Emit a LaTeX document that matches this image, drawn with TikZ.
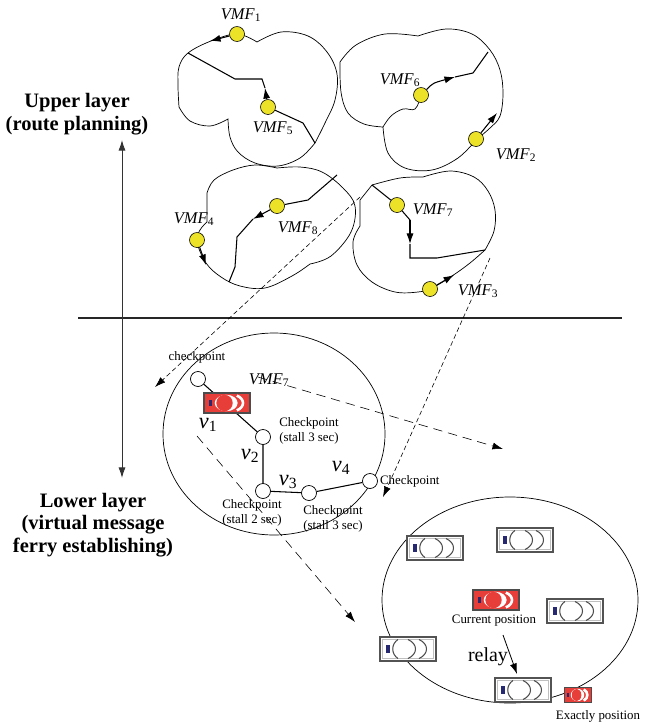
\documentclass[tikz,border=0pt]{standalone}
\usepackage{fontspec}
\setmainfont{Liberation Serif}
\usetikzlibrary{arrows.meta}

\definecolor{dotyellow}{RGB}{236,226,40}
\definecolor{carred}{RGB}{232,62,58}
\definecolor{carblue}{RGB}{38,40,112}

\newcommand{\vmf}[1]{\textit{VMF}\textsubscript{#1}}
\newcommand{\vsub}[1]{\textit{v}\textsubscript{#1}}

% top view of a car, white body
\tikzset{
  pics/whitecar/.style={code={
    \draw[gray!65!black,line width=1.3pt,fill=white] (-28,-12) rectangle (28,12);
    \draw[gray!50,line width=0.5pt] (-25.5,-9.5) rectangle (25.5,9.5);
    \fill[carblue] (-22,-4) rectangle (-18,4);
    \draw[gray!60!black,line width=0.9pt] (-10,-9.5) .. controls (-17,-5) and (-17,5) .. (-10,9.5);
    \draw[gray!60!black,line width=0.9pt] (0,-9.5) .. controls (10,-5) and (10,5) .. (0,9.5);
    \draw[gray!60!black,line width=0.9pt] (11,-9.5) .. controls (21,-5) and (21,5) .. (11,9.5);
  }},
  % same car, red body
  pics/redcar/.style={code={
    \draw[gray!60!black,line width=1.2pt,fill=carred] (-28,-12) rectangle (28,12);
    \fill[carblue] (-22,-4) rectangle (-18,4);
    \fill[white] (-1,0) ellipse [x radius=14, y radius=10];
    \fill[carred] (-3,0) ellipse [x radius=10, y radius=10];
    \draw[white,line width=2.2pt] (12,-9) .. controls (22,-5) and (22,5) .. (12,9);
  }}
}

\begin{document}
\begin{tikzpicture}[x=0.03cm,y=-0.03cm,>={Latex[length=9pt,width=6pt]},
  region/.style={line width=0.6pt},
  route/.style={line width=0.9pt},
  vmf/.style={circle,draw,fill=dotyellow,inner sep=0pt,minimum size=0.45cm,line width=0.5pt},
  cpoint/.style={circle,draw,fill=white,inner sep=0pt,minimum size=0.45cm,line width=0.6pt},
  vmftext/.style={font=\fontsize{14}{14}\selectfont},
  note/.style={font=\fontsize{11}{12.5}\selectfont,align=center},
  vtext/.style={font=\fontsize{19}{19}\selectfont},
  layer/.style={font=\bfseries\fontsize{17.5}{19.5}\selectfont,align=center},
  longdash/.style={dash pattern=on 8pt off 5pt,line width=0.5pt},
  shortdash/.style={dash pattern=on 4pt off 2.5pt,line width=0.5pt},
]
\useasboundingbox (0,0) rectangle (648,726);

% upper layer: four areas
\draw[region] plot[smooth,tension=0.6] coordinates {(257,42) (281,32) (308,36) (327,52) (337,74) (335,100) (325,123) (315,143)}
  -- plot[smooth,tension=0.6] coordinates {(315,143) (300,158) (278,166) (255,163) (238,152) (230,137) (228,119)}
  -- plot[smooth,tension=0.6] coordinates {(228,119) (210,126) (190,121) (179,107)}
  -- plot[smooth,tension=0.6] coordinates {(179,107) (178,86) (179,67) (188,53) (211,41) (237,34) (257,42)} -- cycle;
\draw[region] plot[smooth,tension=0.6] coordinates {(418,36) (446,29) (472,34) (490,50) (500,70) (503,93) (500,116) (490,128) (477,139)}
  -- plot[smooth,tension=0.6] coordinates {(477,139) (458,158) (432,170) (405,168) (388,153) (383,127)}
  -- plot[smooth,tension=0.6] coordinates {(383,127) (364,124) (348,113) (341,92) (340,62)}
  -- plot[smooth,tension=0.6] coordinates {(340,62) (356,45) (385,34) (418,36)} -- cycle;
\draw[region] plot[smooth,tension=0.6] coordinates {(383,127) (391,116) (403,109) (415,109) (421,96)};
\draw[region] plot[smooth,tension=0.6] coordinates {(277,168) (300,167) (322,172) (343,188) (355,206) (351,232) (331,256) (310,264)}
  -- plot[smooth,tension=0.6] coordinates {(310,264) (292,276) (265,288) (240,286) (221,277) (206,263) (197,242) (200,230) (207,222)}
  -- (207,193)
  -- plot[smooth,tension=0.6] coordinates {(207,193) (214,180) (233,170) (255,165) (277,168)} -- cycle;
\draw[region] (372,185) -- (360,200) -- (360,226)
  -- plot[smooth,tension=0.6] coordinates {(360,226) (353,242) (357,265) (372,282) (395,292) (418,292) (432,288) (452,276) (470,263) (485,250)}
  -- plot[smooth,tension=0.6] coordinates {(485,250) (494,231) (495,210) (488,191) (474,177) (450,171) (423,177)}
  -- plot[smooth,tension=0.6] coordinates {(423,177) (400,178) (372,185)} -- cycle;

% message ferries
\node[vmf] (vmf1) at (237,34) {};
\node[vmf] (vmf5) at (268,107) {};
\node[vmf] (vmf6) at (421,95) {};
\node[vmf] (vmf2) at (476,139) {};
\node[vmf] (vmf4) at (197,240) {};
\node[vmf] (vmf8) at (277,206) {};
\node[vmf] (vmf7) at (397,205) {};
\node[vmf] (vmf3) at (430,289) {};

\node[vmftext] (t1) at (241,15) {\vmf{1}};
\node[vmftext] (t5) at (273,128) {\vmf{5}};
\node[vmftext] (t6) at (400,80) {\vmf{6}};
\node[vmftext] (t2) at (516,155) {\vmf{2}};
\node[vmftext] (t4) at (194,219) {\vmf{4}};
\node[vmftext] (t8) at (298,228) {\vmf{8}};
\node[vmftext] (t7) at (433,210) {\vmf{7}};
\node[vmftext] (t3) at (478,291) {\vmf{3}};

% routes
\coordinate (r1a) at (188,53);
\coordinate (r1b) at (235,79);
\coordinate (r1c) at (262,79);
\coordinate (r1t) at (265,88);
\coordinate (r1d) at (303,123);
\coordinate (r1e) at (315,143);
\coordinate (r1s) at (210,41);
\draw[route] (r1a) -- (r1b) -- (r1c) -- (r1t);
\draw[route,->] (vmf5) -- (r1t);
\draw[route] (vmf5) -- (r1d) -- (r1e);
\draw[route,->] (vmf1) -- (r1s);

\coordinate (r2a) at (455,77);
\coordinate (r2b) at (473,73);
\coordinate (r2c) at (488,52);
\coordinate (r2t) at (497,113);
\draw[route,->] (vmf6) .. controls (433,83) .. (r2a);
\draw[route] (r2a) -- (r2b) -- (r2c);
\draw[route,->] (vmf2) -- (r2t);

\coordinate (r3a) at (337,175);
\coordinate (r3b) at (308,200);
\coordinate (r3t) at (253,219);
\coordinate (r3c) at (237,237);
\coordinate (r3d) at (235,267);
\coordinate (r3e) at (229,282);
\coordinate (r4t) at (206,265);
\draw[route] (r3a) -- (r3b) -- (vmf8);
\draw[route,->] (vmf8) -- (r3t);
\draw[route] (r3t) -- (r3c) -- (r3d) -- (r3e);
\draw[route,->] (vmf4) -- (r4t);

\coordinate (r5a) at (372,185);
\coordinate (r5b) at (410,220);
\coordinate (r5t) at (410,244);
\coordinate (r5c) at (410,258);
\coordinate (r5d) at (437,258);
\coordinate (r5e) at (485,250);
\coordinate (r6t) at (454,275);
\draw[route] (r5a) -- (vmf7) -- (r5b);
\draw[route,->] (r5b) -- (r5t);
\draw[route] (r5t) -- (r5c) -- (r5d) -- (r5e);
\draw[route,->] (vmf3) -- (r6t);

% layers
\coordinate (divl) at (78,318);
\coordinate (divr) at (622,318);
\draw[line width=1.6pt,black!85] (divl) -- (divr);
\coordinate (axt) at (122,140);
\coordinate (axb) at (122,478);
\draw[<->,line width=0.8pt,black!80] (axt) -- (axb);
\node[layer] (upper) at (77,114) {Upper layer\\(route planning)};
\node[layer] (lower) at (93,525) {Lower layer\\(virtual message\\ferry establishing)};

% lower layer: checkpoints of VMF7
\coordinate (zone1) at (274,434);
\draw[region] (zone1) ellipse [x radius=111, y radius=101];
\node[cpoint] (cp0) at (198,379) {};
\node[cpoint] (cp1) at (263,437) {};
\node[cpoint] (cp2) at (263,491) {};
\node[cpoint] (cp3) at (309,493) {};
\node[cpoint] (cp4) at (370,481) {};
\draw[route] (cp0) -- (cp1) -- (cp2) -- (cp3) -- (cp4);
\pic[scale=0.82] (ferry) at (227,403) {redcar};

\node[note] (n0) at (197,357) {checkpoint};
\node[note] (n1) at (309,431) {Checkpoint\\(stall 3 sec)};
\node[note] (n2) at (252,513) {Checkpoint\\(stall 2 sec)};
\node[note] (n3) at (333,519) {Checkpoint\\(stall 3 sec)};
\node[note,anchor=west] (n4) at (376,481) {Checkpoint};
\node[vmftext] (t7b) at (269,380) {\vmf{7}};
\node[vtext] (v1) at (208,425) {\vsub{1}};
\node[vtext] (v2) at (250,456) {\vsub{2}};
\node[vtext] (v3) at (288,482) {\vsub{3}};
\node[vtext] (v4) at (341,468) {\vsub{4}};

% lower layer: vehicles around the ferry
\coordinate (zone2) at (510,600);
\draw[region] (zone2) ellipse [x radius=128, y radius=103];
\pic (carA) at (435,548) {whitecar};
\pic (carB) at (525,540) {whitecar};
\pic (carC) at (575,611) {whitecar};
\pic (carD) at (408,649) {whitecar};
\pic (carE) at (523,690) {whitecar};
\pic[scale=0.82] (curcar) at (496,600) {redcar};
\pic[xscale=0.48,yscale=0.62] (exactcar) at (578,695) {redcar};
\node[note] (cur) at (494,621) {Current position};
\node[note] (exact) at (598,716) {Exactly position};
\node[vtext,font=\fontsize{17}{17}\selectfont] (relay) at (488,657) {relay};
\coordinate (rl1) at (503,635);
\coordinate (rl2) at (517,674);
\draw[line width=0.7pt,->] (rl1) -- (rl2);

% dashed projections
\coordinate (d1s) at (360,197);
\coordinate (d1e) at (155,387);
\coordinate (d2s) at (490,258);
\coordinate (d2e) at (383,497);
\coordinate (d3s) at (258,377);
\coordinate (d3e) at (503,449);
\coordinate (d4s) at (197,436);
\coordinate (d4e) at (355,622);
\draw[shortdash,->] (d1s) -- (d1e);
\draw[shortdash,->] (d2s) -- (d2e);
\draw[longdash,->] (d3s) -- (d3e);
\draw[longdash,->] (d4s) -- (d4e);
\end{tikzpicture}
\end{document}
